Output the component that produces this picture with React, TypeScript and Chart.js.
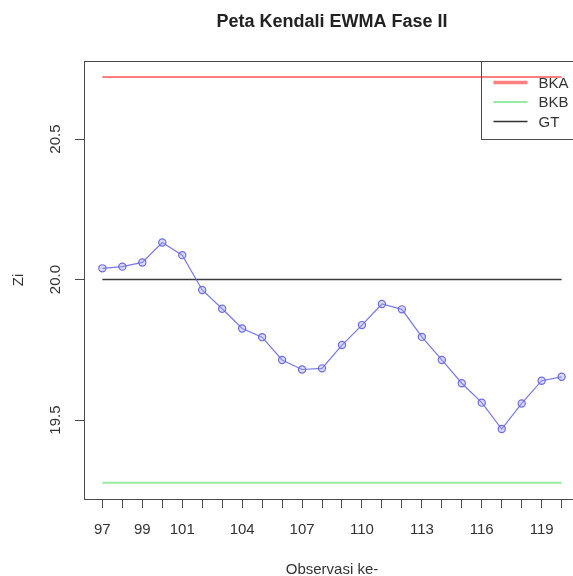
import React, { useEffect, useRef } from "react";
import { Chart, registerables } from "chart.js";

Chart.register(...registerables);

// ---- data ----
const observations = [97, 98, 99, 100, 101, 102, 103, 104, 105, 106, 107, 108, 109, 110, 111, 112, 113, 114, 115, 116, 117, 118, 119, 120];
const ziValues = [20.04, 20.046, 20.061, 20.132, 20.087, 19.963, 19.896, 19.826, 19.795, 19.714, 19.68, 19.684, 19.767, 19.838, 19.913, 19.894, 19.796, 19.714, 19.631, 19.562, 19.468, 19.559, 19.64, 19.654];
const bkaValue = 20.721;
const bkbValue = 19.277;
const gtValue = 20.0;

const xLabelValues = [97, 99, 101, 104, 107, 110, 113, 116, 119];
const xLabelTexts = ["97", "99", "101", "104", "107", "110", "113", "116", "119"];
const yTickValues = [19.5, 20.0, 20.5];
const yTickTexts = ["19.5", "20.0", "20.5"];
const legendLabels = ["BKA", "BKB", "GT"];

const chartTitle = "Peta Kendali EWMA Fase II";
const xAxisTitle = "Observasi ke-";
const yAxisTitle = "Zi";

const FONT = "'Liberation Sans', Arial, Helvetica, sans-serif";
const TEXT = "#333333";
const AXIS = "#4a4a4a";

const X_MIN = 96.08;
const X_MAX = 120.92;
const Y_MIN = 19.219;
const Y_MAX = 20.778;

const legendStyles = [
  { color: "rgba(255,40,40,0.6)", width: 3.5 },
  { color: "rgba(60,220,90,0.55)", width: 2 },
  { color: "#333333", width: 1.3 },
];

const boxLegendPlugin = {
  id: "boxLegend",
  afterDatasetsDraw(chart: any) {
    const { ctx, chartArea: a } = chart;
    ctx.save();
    ctx.strokeStyle = AXIS;
    ctx.lineWidth = 1;
    const l = Math.round(a.left) + 0.5;
    const t = Math.round(a.top) + 0.5;
    const r = Math.round(a.right) + 0.5;
    const b = Math.round(a.bottom) + 0.5;
    ctx.strokeRect(l, t, r - l, b - t);

    // legend (top-right of plot region)
    const lw = 99;
    const lh = 78;
    const lx = Math.round(a.right - lw) + 0.5;
    const ly = t;
    ctx.strokeRect(lx, ly, lw, lh);
    ctx.font = `15px ${FONT}`;
    ctx.textBaseline = "middle";
    ctx.textAlign = "left";
    legendLabels.forEach((lab, i) => {
      const y = ly + 21 + i * 19.5;
      ctx.strokeStyle = legendStyles[i].color;
      ctx.lineWidth = legendStyles[i].width;
      ctx.beginPath();
      ctx.moveTo(lx + 12, y);
      ctx.lineTo(lx + 46, y);
      ctx.stroke();
      ctx.fillStyle = TEXT;
      ctx.fillText(lab, lx + 57, y + 1);
    });
    ctx.restore();
  },
};

function flat(v: number) {
  return [
    { x: observations[0], y: v },
    { x: observations[observations.length - 1], y: v },
  ];
}

export default function App() {
  const ref = useRef<HTMLCanvasElement | null>(null);

  useEffect(() => {
    if (!ref.current) return;
    const chart = new Chart(ref.current, {
      type: "line",
      data: {
        datasets: [
          {
            label: "Zi",
            data: observations.map((o, i) => ({ x: o, y: ziValues[i] })),
            borderColor: "rgba(95,95,225,0.85)",
            borderWidth: 1.2,
            pointRadius: 3.6,
            pointBorderWidth: 1.2,
            pointBorderColor: "rgba(95,95,220,0.9)",
            pointBackgroundColor: "rgba(160,160,238,0.4)",
            tension: 0,
          },
          {
            label: legendLabels[0],
            data: flat(bkaValue),
            borderColor: "rgba(255,30,30,0.75)",
            borderWidth: 1.4,
            pointRadius: 0,
          },
          {
            label: legendLabels[1],
            data: flat(bkbValue),
            borderColor: "rgba(80,225,100,0.6)",
            borderWidth: 2,
            pointRadius: 0,
          },
          {
            label: legendLabels[2],
            data: flat(gtValue),
            borderColor: "#3a3a3a",
            borderWidth: 1.5,
            pointRadius: 0,
          },
        ],
      },
      options: {
        animation: false,
        responsive: false,
        devicePixelRatio: 1,
        layout: { padding: 0 },
        plugins: {
          legend: { display: false },
          tooltip: { enabled: false },
          title: {
            display: true,
            text: chartTitle,
            color: "#222222",
            font: { family: FONT, size: 18, weight: "bold" },
            padding: { top: 11, bottom: 28.4 },
          },
        },
        scales: {
          x: {
            type: "linear",
            min: X_MIN,
            max: X_MAX,
            afterBuildTicks: (s: any) => {
              s.ticks = observations.map((v) => ({ value: v }));
            },
            afterFit: (s: any) => {
              s.height = 91;
            },
            grid: { drawOnChartArea: false, drawTicks: true, tickLength: 9, color: AXIS, lineWidth: 1 },
            border: { display: false },
            ticks: {
              autoSkip: false,
              maxRotation: 0,
              minRotation: 0,
              padding: 13,
              color: TEXT,
              font: { family: FONT, size: 15 },
              callback: (v: any) => {
                const i = xLabelValues.indexOf(Number(v));
                return i >= 0 ? xLabelTexts[i] : "";
              },
            },
            title: {
              display: true,
              text: xAxisTitle,
              color: TEXT,
              font: { family: FONT, size: 15 },
              padding: { top: 0, bottom: 11 },
            },
          },
          y: {
            type: "linear",
            min: Y_MIN,
            max: Y_MAX,
            afterBuildTicks: (s: any) => {
              s.ticks = yTickValues.map((v) => ({ value: v }));
            },
            afterFit: (s: any) => {
              s.width = 84;
            },
            grid: { drawOnChartArea: false, drawTicks: true, tickLength: 9, color: AXIS, lineWidth: 1 },
            border: { display: false },
            ticks: {
              minRotation: 90,
              maxRotation: 90,
              crossAlign: "center",
              padding: 5,
              color: TEXT,
              font: { family: FONT, size: 15 },
              callback: (v: any) => {
                const i = yTickValues.indexOf(Number(v));
                return i >= 0 ? yTickTexts[i] : "";
              },
            },
            title: {
              display: true,
              text: yAxisTitle,
              color: TEXT,
              font: { family: FONT, size: 15 },
              padding: { top: 10, bottom: 0 },
            },
          },
          y2: {
            type: "linear",
            position: "right",
            display: true,
            afterFit: (s: any) => {
              s.width = 84;
            },
            grid: { display: false, drawTicks: false },
            border: { display: false },
            ticks: { display: false },
          },
        },
      } as any,
      plugins: [boxLegendPlugin],
    });
    return () => chart.destroy();
  }, []);

  return (
    <div
      style={{
        position: "fixed",
        left: 0,
        top: 0,
        width: 573,
        height: 576,
        overflow: "hidden",
        background: "#ffffff",
      }}
    >
      <canvas ref={ref} width={664} height={590} style={{ display: "block", width: 664, height: 590 }} />
    </div>
  );
}
